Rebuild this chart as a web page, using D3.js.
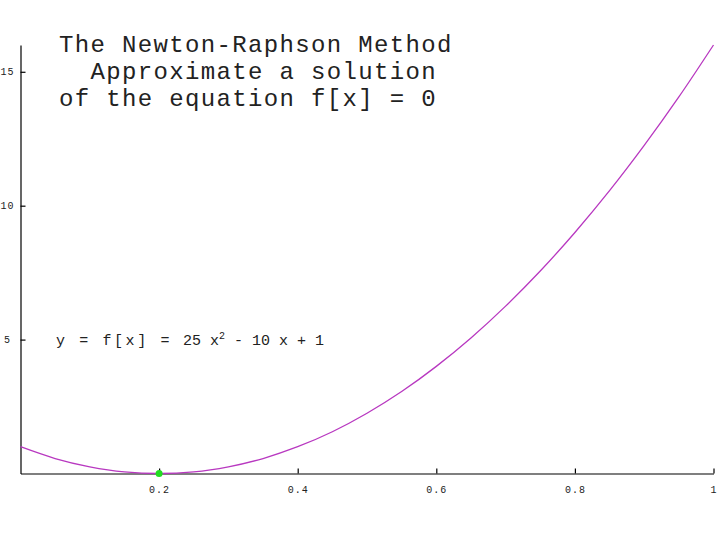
<!DOCTYPE html>
<html>
<head>
<style>
body { margin: 0; background: #fff; }
text { font-family: "Liberation Mono", "DejaVu Sans Mono", monospace; fill: #222; }
</style>
</head>
<body>
<script src="https://d3js.org/d3.v7.min.js"></script>
<script>
const W = 720, H = 540;

// samples of the plotted curve
const xs = [0, 0.05, 0.1, 0.15, 0.2, 0.25, 0.3, 0.35, 0.4, 0.45, 0.5,
            0.55, 0.6, 0.65, 0.7, 0.75, 0.8, 0.85, 0.9, 0.95, 1];
const ys = [1, 0.56, 0.25, 0.06, 0, 0.06, 0.25, 0.56, 1, 1.56, 2.25,
            3.06, 4, 5.06, 6.25, 7.56, 9, 10.56, 12.25, 14.06, 16];
const root = [0.2, 0];
const xTicks = [0.2, 0.4, 0.6, 0.8, 1];
const yTicks = [5, 10, 15];
const titleLines = ["The Newton-Raphson Method", "  Approximate a solution", "of the equation f[x] = 0"];

const svg = d3.select("body").append("svg")
  .attr("width", W).attr("height", H);

const x = d3.scaleLinear().domain([0, 1]).range([20.5, 713.5]);
const y = d3.scaleLinear().domain([0, 16]).range([473.5, 45]);

const xAxis = svg.append("g")
  .attr("transform", `translate(0,${y(0)})`)
  .call(d3.axisBottom(x).tickValues(xTicks).tickSize(-5).tickSizeOuter(0)
    .tickPadding(12).tickFormat(d => d === 1 ? "1" : d3.format(".1f")(d)));

const yAxis = svg.append("g")
  .attr("transform", `translate(${x(0)},0)`)
  .call(d3.axisLeft(y).tickValues(yTicks).tickSize(-5).tickSizeOuter(0));
yAxis.selectAll(".tick text").attr("text-anchor", "middle").attr("x", -13);

svg.selectAll(".domain, .tick line").attr("stroke", "#000").attr("stroke-width", 1.2);
svg.selectAll(".tick text")
  .attr("fill", "#222")
  .attr("font-size", "10px")
  .attr("letter-spacing", "1px")
  .style("font-family", "Liberation Mono, monospace");

const line = d3.line()
  .x((d, i) => x(xs[i]))
  .y(d => y(d))
  .curve(d3.curveMonotoneX);

svg.append("path")
  .datum(ys)
  .attr("d", line)
  .attr("fill", "none")
  .attr("stroke", "#b838c0")
  .attr("stroke-width", 1.3);

svg.append("circle")
  .attr("cx", x(root[0])).attr("cy", y(root[1]))
  .attr("r", 3.5)
  .attr("fill", "#22dd22");

svg.append("g").selectAll("text")
  .data(titleLines)
  .enter().append("text")
  .attr("x", 59)
  .attr("y", (d, i) => 52 + i * 27)
  .style("white-space", "pre")
  .attr("font-size", "24px")
  .attr("letter-spacing", "1.35px")
  .attr("fill", "#333")
  .text(d => d);

const eq = svg.append("text")
  .attr("x", 56).attr("y", 345)
  .attr("font-size", "15px")
  .style("white-space", "pre");
eq.append("tspan").attr("letter-spacing", "2.6px").text("y = f[x] = ");
eq.append("tspan").attr("x", 183).text("25 x");
eq.append("tspan").attr("font-size", "10px").attr("dy", -6).text("2");
eq.append("tspan").attr("dy", 6).text(" - 10 x + 1");
</script>
</body>
</html>
